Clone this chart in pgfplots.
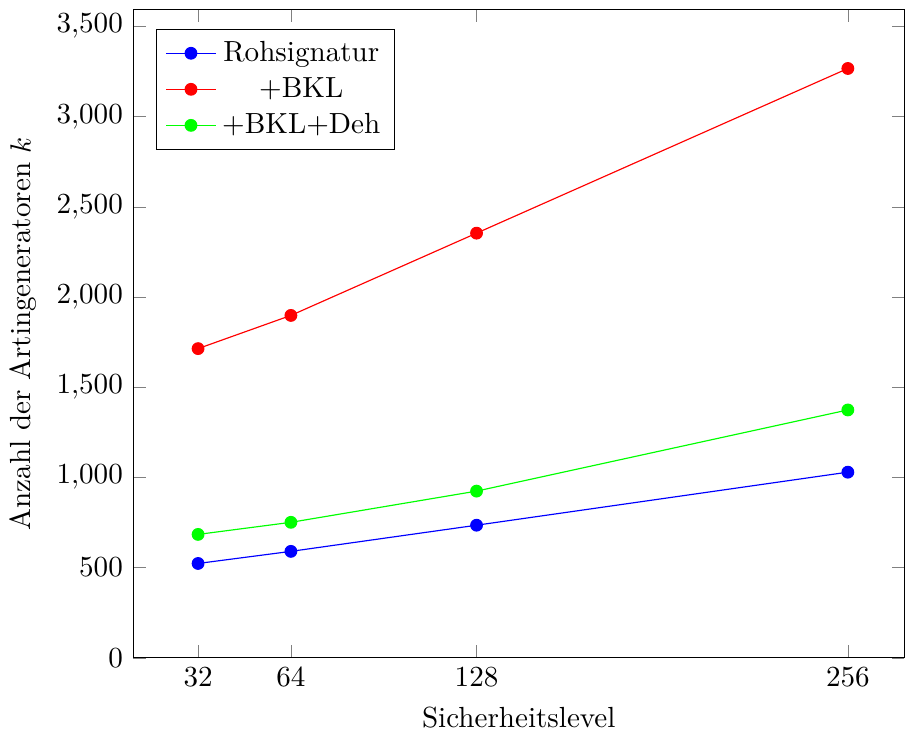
\documentclass[border=0pt]{standalone}
\usepackage{pgfplots}
\pgfplotsset{compat=1.18}
\begin{document}
\begin{tikzpicture}
\begin{axis}[scale only axis,width=265pt,height=222.8pt,
 xmin=9.6,xmax=275.5,ymin=0,ymax=3595,
 xtick={32,64,128,256},ytick={0,500,...,3500},
 xlabel={Sicherheitslevel},ylabel={Anzahl der Artingeneratoren $k$},
 legend pos=north west,legend cell align=center]
\addplot[blue,mark=*] coordinates {(32,523) (64,590) (128,735) (256,1029)};
\addlegendentry{Rohsignatur}
\addplot[red,mark=*] coordinates {(32,1714) (64,1898) (128,2354) (256,3267)};
\addlegendentry{+BKL}
\addplot[green,mark=*] coordinates {(32,684) (64,751) (128,924) (256,1374)};
\addlegendentry{+BKL+Deh}
\end{axis}
\path (current axis.north) ++(0,3.2pt) coordinate (topgap);
\end{tikzpicture}
\end{document}
